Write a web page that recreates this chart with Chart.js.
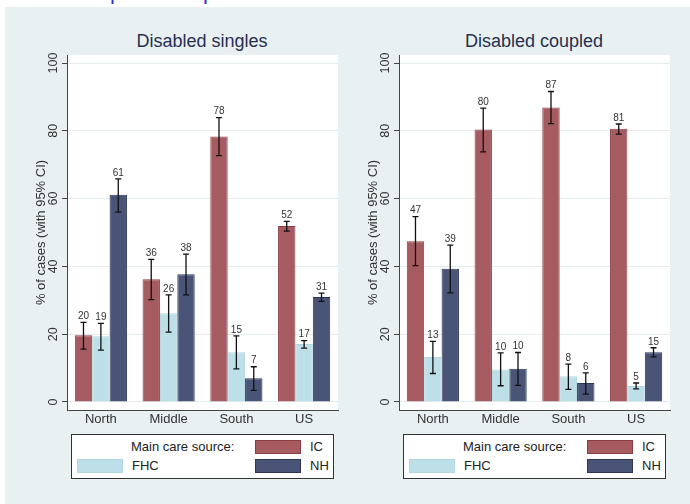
<!DOCTYPE html>
<html>
<head>
<meta charset="utf-8">
<script src="https://cdn.jsdelivr.net/npm/chart.js@4.4.1/dist/chart.umd.min.js"></script>
<style>
body{margin:0;width:690px;height:504px;background:#fff;overflow:hidden;position:relative;font-family:"Liberation Sans",Arial,sans-serif}
#panel{position:absolute;left:5px;top:7px;right:0;bottom:0;background:#e8f0f2}
.cut{position:absolute;top:-19px;font-size:22px;line-height:22px;color:#3030d0}
.wrap{position:absolute;top:0;width:345px;height:430px}
.ttl{position:absolute;top:30px;width:300px;line-height:22px;text-align:center;font-size:18px;color:#26304f}
.legend{position:absolute;top:434px;width:261px;height:43px;background:#fff;border:1px solid #333;font-size:13px;color:#222}
.legend span{position:absolute;line-height:14px}
.legend i{position:absolute;box-sizing:border-box;border:1px solid}
</style>
</head>
<body>
<div id="panel"></div>
<span class="cut" style="left:110px">p</span>
<span class="cut" style="left:203px">p</span>

<div class="ttl" style="left:52px">Disabled singles</div>
<div class="ttl" style="left:384px">Disabled coupled</div>
<div class="wrap" style="left:0"><canvas id="singles" width="345" height="430"></canvas></div>
<div class="wrap" style="left:332px"><canvas id="coupled" width="345" height="430"></canvas></div>
<div class="legend" id="leg1" style="left:71px"></div>
<div class="legend" id="leg2" style="left:403px"></div>

<script>
// categories and series
const regions = ['North', 'Middle', 'South', 'US'];
const seriesNames = ['IC', 'FHC', 'NH'];
const yTicks = [0, 20, 40, 60, 80, 100];

// Disabled singles: share and 95% CI
const singlesIC = [19.7, 36.2, 78.3, 51.9];
const singlesICLo = [15.6, 30.2, 72.7, 50.4];
const singlesICHi = [23.5, 42.1, 83.9, 53.3];
const singlesFHC = [19.4, 26.2, 14.7, 17.1];
const singlesFHCLo = [15.3, 20.6, 9.8, 15.9];
const singlesFHCHi = [23.2, 31.6, 19.5, 18.1];
const singlesNH = [61.1, 37.7, 7.0, 31.0];
const singlesNHLo = [56.0, 31.6, 3.4, 29.7];
const singlesNHHi = [65.8, 43.6, 10.4, 32.1];

// Disabled coupled
const coupledIC = [47.4, 80.4, 86.9, 80.6];
const coupledICLo = [40.2, 73.8, 82.1, 79.0];
const coupledICHi = [54.7, 86.7, 91.6, 82.0];
const coupledFHC = [13.3, 9.6, 7.6, 4.7];
const coupledFHCLo = [8.4, 4.8, 3.7, 3.9];
const coupledFHCHi = [17.9, 14.5, 11.2, 5.6];
const coupledNH = [39.3, 9.8, 5.6, 14.7];
const coupledNHLo = [32.2, 4.9, 2.3, 13.3];
const coupledNHHi = [46.3, 14.6, 8.6, 16.0];

const fills = ['#a65b60', '#bde0e8', '#4a5476'];
const borders = ['#8c3d44', '#b0d6e0', '#2d3658'];

// white plot region, error bars and value labels
const extras = {
    id: 'extras',
    beforeDraw(chart) {
        const a = chart.chartArea, c = chart.ctx;
        c.save();
        c.fillStyle = '#fff';
        c.fillRect(a.left, a.top, a.right - a.left, a.bottom - a.top);
        c.restore();
    },
    afterDatasetsDraw(chart) {
        const c = chart.ctx, y = chart.scales.y;
        c.save();
        c.strokeStyle = '#111';
        c.lineWidth = 1.3;
        c.fillStyle = '#333';
        c.font = '10px "Liberation Sans", Arial, sans-serif';
        c.textAlign = 'center';
        c.textBaseline = 'bottom';
        chart.data.datasets.forEach((ds, i) => {
            chart.getDatasetMeta(i).data.forEach((bar, j) => {
                const top = y.getPixelForValue(ds.hi[j]);
                const bot = y.getPixelForValue(ds.lo[j]);
                c.beginPath();
                c.moveTo(bar.x, top); c.lineTo(bar.x, bot);
                c.moveTo(bar.x - 3, top); c.lineTo(bar.x + 3, top);
                c.moveTo(bar.x - 3, bot); c.lineTo(bar.x + 3, bot);
                c.stroke();
                c.fillText(Math.round(ds.data[j]), bar.x, top - 1);
            });
        });
        c.restore();
    }
};

function makeChart(id, values, lows, highs) {
    new Chart(document.getElementById(id).getContext('2d'), {
        type: 'bar',
        data: {
            labels: regions,
            datasets: seriesNames.map((name, i) => ({
                label: name,
                data: values[i],
                lo: lows[i],
                hi: highs[i],
                backgroundColor: fills[i],
                borderColor: borders[i],
                borderWidth: 1,
                barPercentage: 1,
                categoryPercentage: 0.77
            }))
        },
        options: {
            responsive: false,
            animation: false,
            devicePixelRatio: 1,
            layout: { padding: { left: 20, top: 55, right: 7, bottom: 0 } },
            plugins: { legend: { display: false }, tooltip: { enabled: false } },
            scales: {
                x: {
                    afterFit: s => { s.height = 20 },
                    grid: { display: false, drawTicks: false },
                    border: { display: true, color: '#444', width: 1 },
                    ticks: { padding: 1.5, color: '#333', font: { size: 13, family: '"Liberation Sans", Arial, sans-serif' } }
                },
                y: {
                    min: -2.36,
                    max: 102.36,
                    afterBuildTicks: s => { s.ticks = yTicks.map(v => ({ value: v })) },
                    afterFit: s => { s.width = 47 },
                    grid: { color: '#e4ecee', lineWidth: 1, tickLength: 5, tickColor: '#444' },
                    border: { display: true, color: '#444', width: 1 },
                    ticks: {
                        minRotation: 90, maxRotation: 90, crossAlign: 'center', padding: -2,
                        color: '#333', font: { size: 12.5, family: '"Liberation Sans", Arial, sans-serif' }
                    },
                    title: {
                        display: true, text: '% of cases (with 95% CI)', color: '#333',
                        padding: { top: 14, bottom: 0 },
                        font: { size: 13, family: '"Liberation Sans", Arial, sans-serif' }
                    }
                }
            }
        },
        plugins: [extras]
    });
}

makeChart('singles', [singlesIC, singlesFHC, singlesNH], [singlesICLo, singlesFHCLo, singlesNHLo], [singlesICHi, singlesFHCHi, singlesNHHi]);
makeChart('coupled', [coupledIC, coupledFHC, coupledNH], [coupledICLo, coupledFHCLo, coupledNHLo], [coupledICHi, coupledFHCHi, coupledNHHi]);

// Stata-style legend: heading, then 2 columns
function makeLegend(id) {
    const box = document.getElementById(id);
    const slots = [[183, 5], [5, 24], [183, 24]];
    let html = '<span style="left:59px;top:5px">Main care source:</span>';
    seriesNames.forEach((name, i) => {
        const [x, y] = slots[i];
        html += '<i style="left:' + x + 'px;top:' + y + 'px;width:46px;height:14px;background:' + fills[i] + ';border-color:' + borders[i] + '"></i>';
        html += '<span style="left:' + (x + 55) + 'px;top:' + y + 'px">' + name + '</span>';
    });
    box.innerHTML = html;
}
makeLegend('leg1');
makeLegend('leg2');
</script>
</body>
</html>
